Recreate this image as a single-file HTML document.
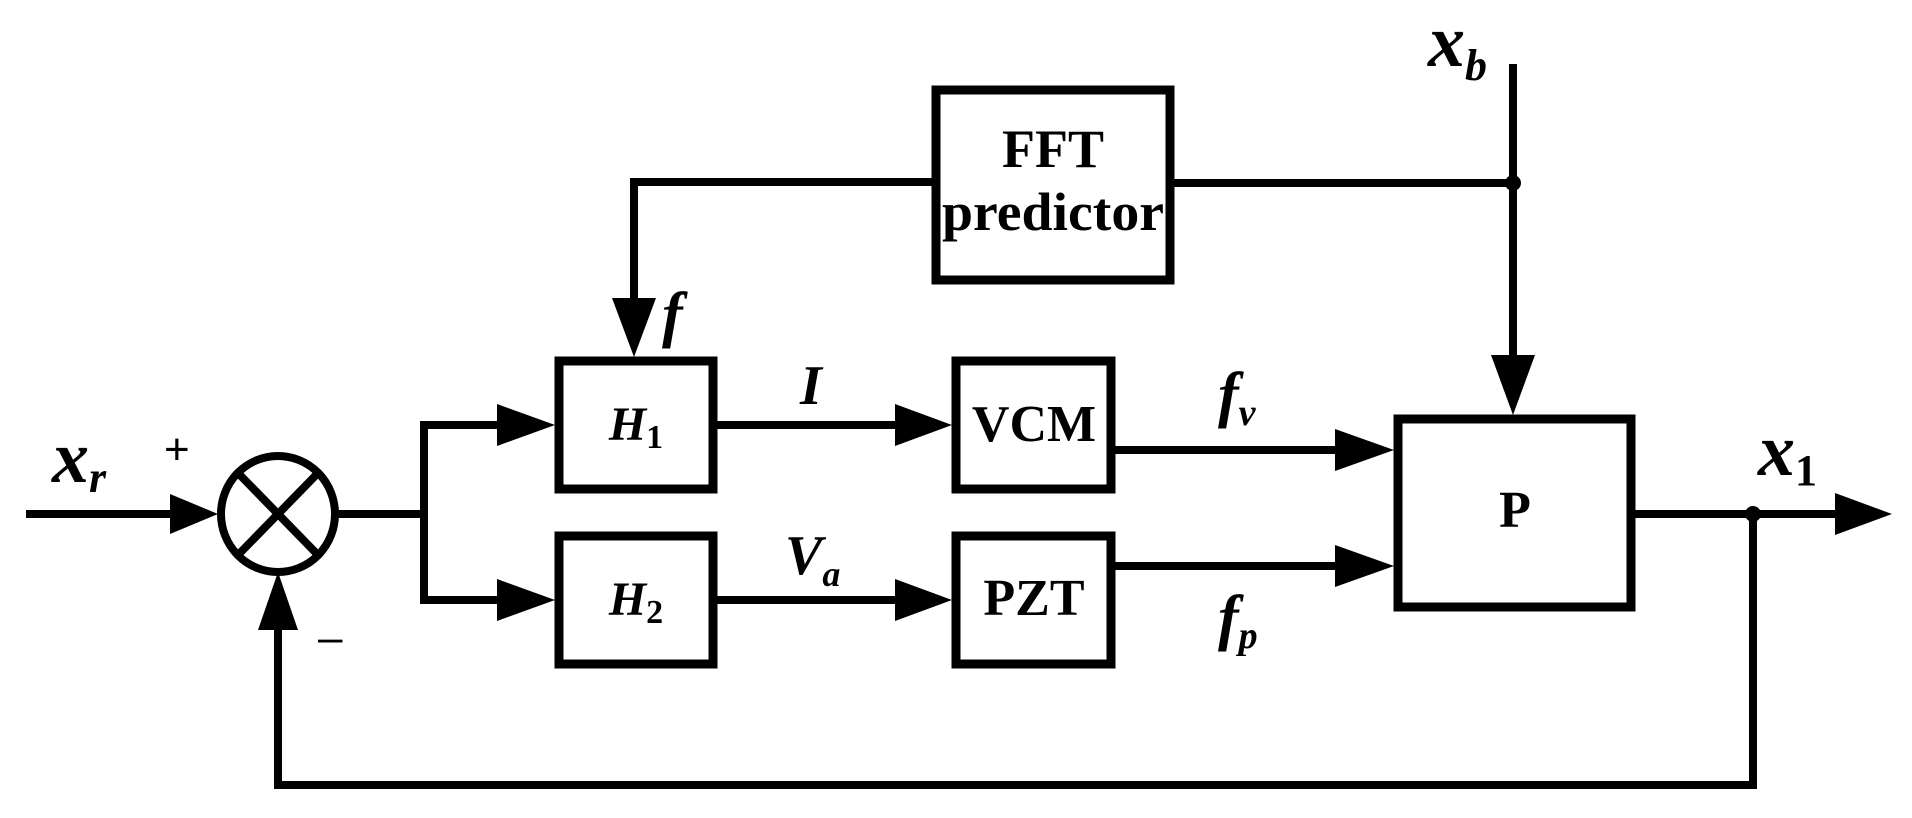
<!DOCTYPE html>
<html><head><style>html,body{margin:0;padding:0;background:#fff}svg{display:block}</style></head>
<body>
<svg width="1912" height="818" viewBox="0 0 1912 818" xmlns="http://www.w3.org/2000/svg">
<g stroke="#000" stroke-width="8" fill="none" stroke-linecap="square">
<rect x="936" y="90" width="234" height="190" stroke-width="9"/>
<rect x="559" y="361" width="154" height="128" stroke-width="9"/>
<rect x="559" y="536" width="154" height="128" stroke-width="9"/>
<rect x="956" y="361" width="155" height="128" stroke-width="9"/>
<rect x="956" y="536" width="155" height="128" stroke-width="9"/>
<rect x="1398" y="419" width="233" height="188" stroke-width="9"/>
<ellipse cx="278" cy="514" rx="57" ry="58"/>
<line x1="238" y1="473" x2="318" y2="555"/>
<line x1="318" y1="473" x2="238" y2="555"/>
<line x1="30" y1="514" x2="170" y2="514"/>
<line x1="335" y1="514" x2="424" y2="514"/>
<polyline points="424,514 424,425 500,425"/>
<polyline points="424,514 424,600 500,600"/>
<line x1="713" y1="425" x2="900" y2="425"/>
<line x1="713" y1="600" x2="900" y2="600"/>
<line x1="1111" y1="450" x2="1340" y2="450"/>
<line x1="1111" y1="566" x2="1340" y2="566"/>
<polyline points="936,182 634,182 634,300"/>
<line x1="1170" y1="183" x2="1513" y2="183"/>
<line x1="1513" y1="68" x2="1513" y2="360"/>
<line x1="1631" y1="514" x2="1840" y2="514"/>
<polyline points="1753,514 1753,785 278,785 278,630"/>
</g>
<g fill="#000">
<polygon points="170,494 218,514 170,534"/>
<polygon points="258,630 278,572 298,630"/>
<polygon points="497,404 555,425 497,446"/>
<polygon points="497,579 555,600 497,621"/>
<polygon points="895,404 952,425 895,446"/>
<polygon points="895,579 952,600 895,621"/>
<polygon points="1335,429 1394,450 1335,471"/>
<polygon points="1335,545 1394,566 1335,587"/>
<polygon points="612,298 634,357 656,298"/>
<polygon points="1491,355 1513,415 1535,355"/>
<polygon points="1835,493 1892,514 1835,535"/>
<circle cx="1513" cy="183" r="8"/>
<circle cx="1753" cy="514" r="8"/>
</g>
<g font-family="Liberation Serif, serif" font-weight="bold" fill="#000" text-anchor="middle">
<text x="1053" y="167" font-size="54">FFT</text>
<text x="1053" y="230" font-size="54" textLength="222" lengthAdjust="spacingAndGlyphs">predictor</text>
<text x="1034" y="441" font-size="52">VCM</text>
<text x="1034" y="615" font-size="52">PZT</text>
<text x="1515" y="527" font-size="52">P</text>
<text x="636" y="440" font-size="48" font-style="italic">H<tspan font-style="normal" font-size="34" dy="8">1</tspan></text>
<text x="636" y="615" font-size="48" font-style="italic">H<tspan font-style="normal" font-size="34" dy="8">2</tspan></text>
</g>
<g font-family="Liberation Serif, serif" font-style="italic" font-weight="bold" fill="#000">
<text x="52" y="482" font-size="74">x<tspan font-size="44" dy="10">r</tspan></text>
<text x="1428" y="66" font-size="74">x<tspan font-size="44" dy="14">b</tspan></text>
<text x="1758" y="475" font-size="74">x<tspan font-size="44" dy="10" font-style="normal">1</tspan></text>
<text x="662" y="335" font-size="62">f</text>
<text x="800" y="404" font-size="56">I</text>
<text x="785" y="574" font-size="56">V<tspan font-size="36" dy="12">a</tspan></text>
<text x="1218" y="415" font-size="62">f<tspan font-size="38" dy="10">v</tspan></text>
<text x="1218" y="638" font-size="62">f<tspan font-size="38" dy="10">p</tspan></text>
</g>
<g font-family="Liberation Sans, sans-serif" fill="#000">
<text x="164" y="464" font-size="44">+</text>
<text x="318" y="652" font-size="44">–</text>
</g>
</svg>
</body></html>
